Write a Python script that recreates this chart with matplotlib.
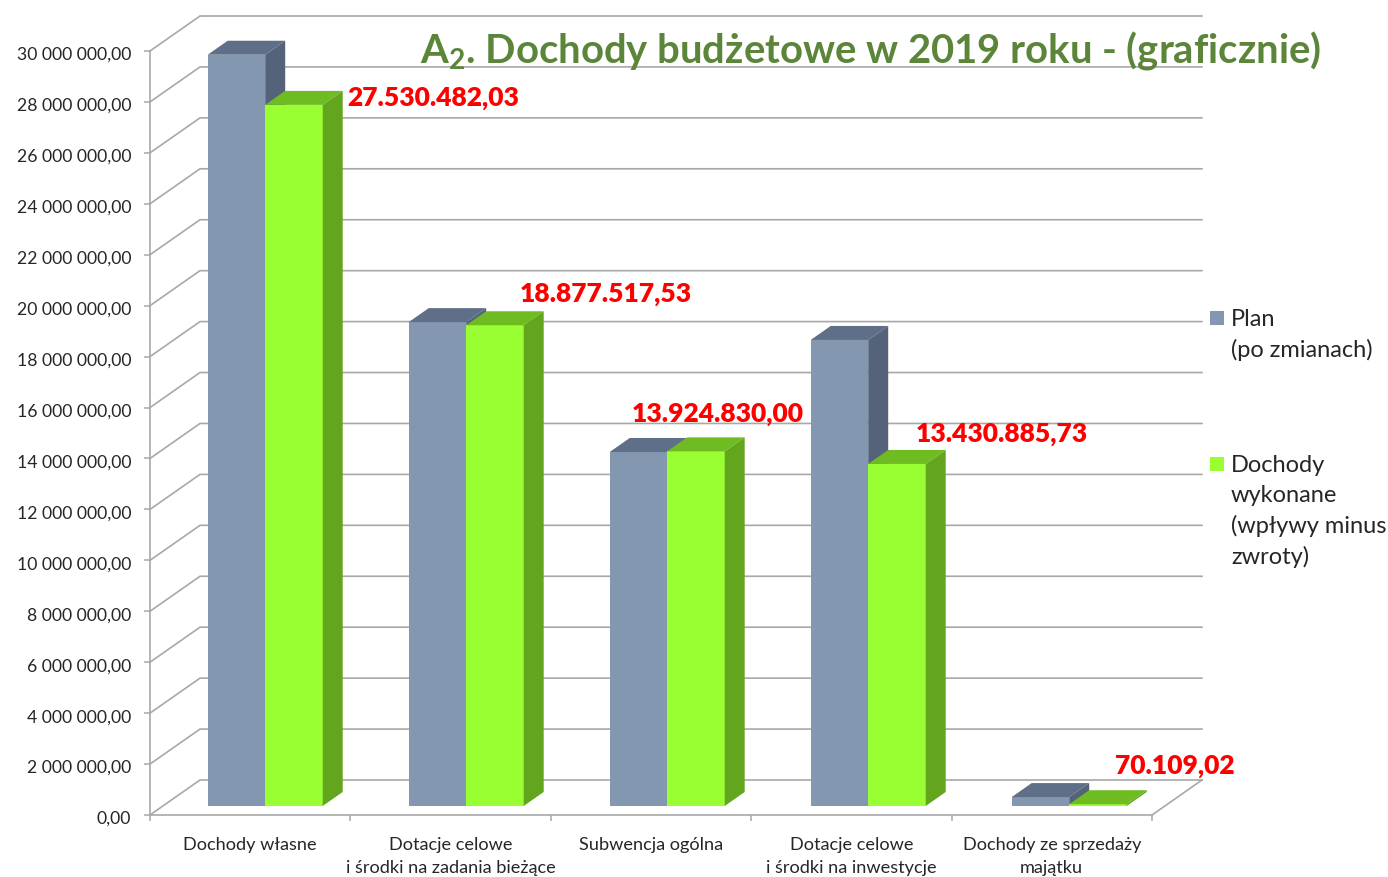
# Budget income 2019, pseudo 3D column chart drawn on plain axes.
import matplotlib
matplotlib.use("Agg")
import matplotlib.pyplot as plt
from matplotlib.patches import Rectangle
from matplotlib.transforms import ScaledTranslation

plt.rcParams['font.family'] = ['Lato', 'DejaVu Sans']

categories = ["Dochody własne",
              "Dotacje celowe\ni środki na zadania bieżące",
              "Subwencja ogólna",
              "Dotacje celowe\ni środki na inwestycje",
              "Dochody ze sprzedaży\nmajątku"]
plan = [29500000, 19000000, 13900000, 18300000, 350000]
wykonane = [27530482.03, 18877517.53, 13924830.00, 13430885.73, 70109.02]
value_labels = ["27.530.482,03", "18.877.517,53", "13.924.830,00", "13.430.885,73", "70.109,02"]
yticks = list(range(0, 30000001, 2000000))

W, H = 1388, 877
# plot box in pixels of the image
left, right, top, bottom = 150, 1152, 51, 815
ux = (right - left) / 5.0            # px per category
uy = (bottom - top) / 30000000.0     # px per unit

c_blue, c_blue_top, c_blue_side = "#8497b0", "#5f6f87", "#55637a"
c_green, c_green_top, c_green_side = "#99ff33", "#6fbc22", "#63a61e"
c_grid = "#a8a8a8"


def fx(px):
    return px / W


def fy(py):
    return 1 - py / H


def draw_bar(ax, x, w, val, col, col_top, col_side, z):
    # shift of the front face and depth of the bar, px turned into data units
    x0 = x + 15 / ux
    y0 = 9 / uy
    dx = 20 / ux
    dy = 14 / uy
    ax.bar(x0, val, w, bottom=y0, align="edge", color=col, zorder=z, clip_on=False)
    t = val + y0
    ax.fill([x0, x0 + w, x0 + w + dx, x0 + dx], [t, t, t + dy, t + dy],
            color=col_top, lw=0, zorder=z, clip_on=False)
    ax.fill([x0 + w, x0 + w + dx, x0 + w + dx, x0 + w], [y0, y0 + dy, t + dy, t],
            color=col_side, lw=0, zorder=z, clip_on=False)


fig = plt.figure(figsize=(W / 100, H / 100), dpi=100, facecolor="white")
ax = fig.add_axes([fx(left), fy(bottom), (right - left) / W, (bottom - top) / H])
ax.set_xlim(0, 5)
ax.set_ylim(0, 30000000)
for s in ["top", "right"]:
    ax.spines[s].set_visible(False)
for s in ["left", "bottom"]:
    ax.spines[s].set_color(c_grid)
    ax.spines[s].set_linewidth(1.2)

# back wall lines and the slanted side wall lines
back_x = 50 / ux
back_y = 35 / uy
for v in yticks:
    ax.plot([0, back_x, 5 + back_x], [v, v + back_y, v + back_y], color=c_grid, lw=1.2,
            zorder=1, clip_on=False, solid_joinstyle="miter")
ax.plot([5, 5 + back_x], [0, back_y], color=c_grid, lw=1.2, zorder=1, clip_on=False)

bar_w = 57.5 / ux
step = 201 / ux  # bars sit a bit wider apart than the ticks
for i in range(len(categories)):
    c = 0.5 + i * step
    draw_bar(ax, c - bar_w, bar_w, plan[i], c_blue, c_blue_top, c_blue_side, 3 + i * 2)
    draw_bar(ax, c, bar_w, wykonane[i], c_green, c_green_top, c_green_side, 4 + i * 2)

ax.set_yticks(yticks)
ax.set_yticklabels([f"{v:,.2f}".replace(",", " ").replace(".", ",") for v in yticks],
                   fontsize=12.7, color="#262626")
ax.tick_params(axis="y", length=4.5, width=1.1, color=c_grid, pad=9)
for lab in ax.get_yticklabels():
    lab.set_transform(lab.get_transform() + ScaledTranslation(0, -2.5 / 100, fig.dpi_scale_trans))
ax.set_xticks(range(6))
ax.set_xticklabels([])
ax.tick_params(axis="x", which="major", length=4.5, width=1.1, color=c_grid)
ax.set_xticks([i + 0.5 for i in range(5)], minor=True)
ax.set_xticklabels(categories, minor=True, fontsize=13.1, color="#262626", linespacing=1.55)
ax.tick_params(axis="x", which="minor", length=0, pad=15.5)

# red labels
label_pos = [(347, 98.5), (520, 293.5), (632, 413.5), (916, 434.5), (1115, 766.5)]
for txt, (px, py) in zip(value_labels, label_pos):
    fig.text(fx(px), fy(py), txt, color="#ff0000", fontsize=19, fontweight="heavy",
             va="center", ha="left", zorder=20)

fig.text(fx(420), fy(62), r"A$_{\mathregular{2}}$. Dochody budżetowe w 2019 roku - (graficznie)",
         color="#5b8539", fontsize=28.8, fontweight="bold", va="baseline", ha="left", zorder=20)

# legend
fig.add_artist(Rectangle((fx(1210), fy(325)), 14 / W, 14 / H, color=c_blue, lw=0))
fig.add_artist(Rectangle((fx(1210), fy(471)), 14 / W, 14 / H, color=c_green, lw=0))
fig.text(fx(1231), fy(309), "Plan\n(po zmianach)", fontsize=17, color="#262626",
         va="top", ha="left", linespacing=1.5)
fig.text(fx(1231), fy(455), "Dochody\nwykonane\n(wpływy minus\nzwroty)", fontsize=17,
         color="#262626", va="top", ha="left", linespacing=1.5)

fig.savefig("out.png", dpi=100)
